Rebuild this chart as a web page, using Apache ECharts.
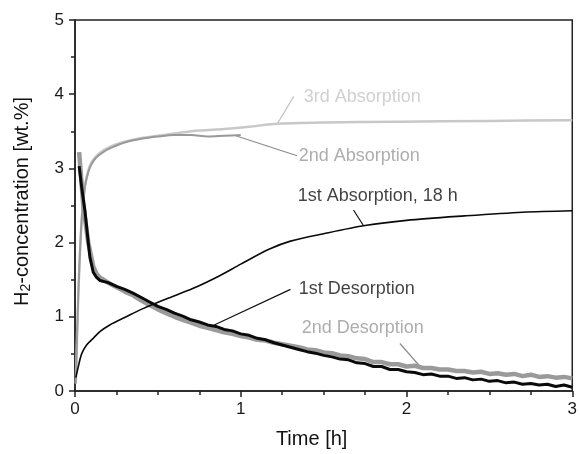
<!DOCTYPE html>
<html>
<head>
<meta charset="utf-8">
<script src="https://cdn.jsdelivr.net/npm/echarts@6/dist/echarts.min.js"></script>
<style>
  html, body { margin: 0; padding: 0; background: #fff; overflow: hidden; }
  #chart { width: 100vw; height: 100vh; }
</style>
</head>
<body>
<div id="chart"></div>
<script>
  // [time h, wt.%]
  let abs1 = [
    [0.005, 0.18], [0.02, 0.33], [0.04, 0.5], [0.07, 0.62], [0.11, 0.71], [0.15, 0.8],
    [0.21, 0.89], [0.3, 0.99], [0.41, 1.11], [0.55, 1.24], [0.71, 1.38], [0.87, 1.55],
    [1.0, 1.71], [1.17, 1.91], [1.3, 2.02], [1.5, 2.12], [1.75, 2.23], [2.0, 2.3],
    [2.35, 2.36], [2.7, 2.41], [3.0, 2.43]
  ]
  let abs2 = [
    [0.005, 0.1], [0.02, 1.3], [0.04, 2.3], [0.06, 2.75], [0.08, 2.95], [0.1, 3.06],
    [0.13, 3.15], [0.17, 3.22], [0.22, 3.28], [0.3, 3.35], [0.4, 3.4], [0.5, 3.43],
    [0.6, 3.45], [0.7, 3.45], [0.8, 3.43], [0.9, 3.44], [1.0, 3.45]
  ]
  let abs3 = [
    [0.005, 0.1], [0.02, 1.3], [0.04, 2.3], [0.06, 2.77], [0.08, 2.97], [0.1, 3.08],
    [0.13, 3.17], [0.17, 3.24], [0.22, 3.3], [0.3, 3.36], [0.4, 3.41], [0.5, 3.44],
    [0.6, 3.47], [0.75, 3.51], [0.9, 3.53], [1.05, 3.56], [1.2, 3.6], [1.5, 3.62],
    [1.95, 3.63], [2.5, 3.64], [3.0, 3.65]
  ]
  let des1 = [
    [0.025, 3.03], [0.04, 2.75], [0.06, 2.43], [0.08, 2.0], [0.09, 1.8], [0.11, 1.6], [0.13, 1.53],
    [0.15, 1.49], [0.2, 1.46], [0.25, 1.41], [0.3, 1.37], [0.35, 1.32], [0.4, 1.26], [0.45, 1.2],
    [0.5, 1.14], [0.55, 1.1], [0.6, 1.05], [0.65, 1.01], [0.7, 0.96], [0.75, 0.93], [0.8, 0.89],
    [0.85, 0.87], [0.9, 0.83], [0.95, 0.81], [1.0, 0.77], [1.05, 0.75], [1.1, 0.71], [1.15, 0.69],
    [1.2, 0.65], [1.25, 0.62], [1.3, 0.59], [1.35, 0.56], [1.4, 0.53], [1.45, 0.51], [1.5, 0.48],
    [1.55, 0.46], [1.6, 0.43], [1.65, 0.42], [1.7, 0.38], [1.75, 0.37], [1.8, 0.33], [1.85, 0.33],
    [1.9, 0.29], [1.95, 0.29], [2.0, 0.26], [2.05, 0.25], [2.1, 0.22], [2.15, 0.23], [2.2, 0.2],
    [2.25, 0.2], [2.3, 0.17], [2.35, 0.18], [2.4, 0.15], [2.45, 0.16], [2.5, 0.13], [2.55, 0.14],
    [2.6, 0.11], [2.65, 0.12], [2.7, 0.09], [2.75, 0.1], [2.8, 0.08], [2.85, 0.09], [2.9, 0.06],
    [2.95, 0.08], [3.0, 0.05]
  ]
  let des2 = [
    [0.025, 3.22], [0.05, 2.5], [0.08, 2.0], [0.11, 1.68], [0.13, 1.58], [0.15, 1.53], [0.2, 1.46],
    [0.25, 1.4], [0.3, 1.34], [0.35, 1.29], [0.4, 1.22], [0.45, 1.16], [0.5, 1.1], [0.55, 1.05],
    [0.6, 1.0], [0.65, 0.96], [0.7, 0.92], [0.75, 0.88], [0.8, 0.85], [0.85, 0.82], [0.9, 0.79],
    [0.95, 0.77], [1.0, 0.74], [1.05, 0.72], [1.1, 0.69], [1.15, 0.68], [1.2, 0.65], [1.25, 0.63],
    [1.3, 0.61], [1.35, 0.59], [1.4, 0.56], [1.45, 0.55], [1.5, 0.52], [1.55, 0.51], [1.6, 0.48],
    [1.65, 0.47], [1.7, 0.44], [1.75, 0.43], [1.8, 0.39], [1.85, 0.39], [1.9, 0.36], [1.95, 0.36],
    [2.0, 0.33], [2.05, 0.34], [2.1, 0.31], [2.15, 0.31], [2.2, 0.29], [2.25, 0.29], [2.3, 0.27],
    [2.35, 0.27], [2.4, 0.25], [2.45, 0.26], [2.5, 0.23], [2.55, 0.24], [2.6, 0.22], [2.65, 0.23],
    [2.7, 0.2], [2.75, 0.22], [2.8, 0.19], [2.85, 0.2], [2.9, 0.18], [2.95, 0.19], [3.0, 0.17]
  ]
  // annotation text: [x, y, text, color]
  let notes = [
    [1.38, 3.96, '3rd Absorption', '#c4c4c4'],
    [1.35, 3.16, '2nd Absorption', '#999999'],
    [1.344, 2.63, '1st Absorption, 18 h', '#111111'],
    [1.35, 1.37, '1st Desorption', '#111111'],
    [1.368, 0.85, '2nd Desorption', '#999999']
  ]
  // leader lines: [x1, y1, x2, y2, color]
  let leaders = [
    [1.32, 3.97, 1.22, 3.6, '#c4c4c4'],
    [1.34, 3.17, 0.97, 3.44, '#8c8c8c'],
    [1.68, 2.44, 1.74, 2.23, '#111111'],
    [1.3, 1.37, 0.84, 0.89, '#111111'],
    [1.96, 0.64, 2.09, 0.31, '#8c8c8c']
  ]

  let chart = echarts.init(document.getElementById('chart'))
  let font = 'Liberation Sans, Arial, sans-serif'
  let option = {
    animation: false,
    grid: {
      left: 75, right: 4, top: 20, bottom: 59,
      show: true, borderColor: '#222', borderWidth: 1.5
    },
    xAxis: {
      type: 'value', min: 0, max: 3, interval: 1,
      name: 'Time [h]', nameLocation: 'middle', nameGap: 38,
      nameTextStyle: { fontSize: 20, color: '#111', fontFamily: font, padding: [0, 24, 0, 0] },
      axisLine: { lineStyle: { color: '#222', width: 1.5 } },
      axisTick: { length: 6, lineStyle: { color: '#222', width: 1.5 } },
      minorTick: { show: true, splitNumber: 4, length: 4, lineStyle: { color: '#222', width: 1.5 } },
      axisLabel: { fontSize: 17, color: '#1a1a1a', fontFamily: font, margin: 10 },
      splitLine: { show: false }
    },
    yAxis: {
      type: 'value', min: 0, max: 5, interval: 1,
      name: 'H{sub|2}-concentration [wt.%]', nameLocation: 'middle', nameGap: 42,
      nameTextStyle: {
        fontSize: 20, color: '#111', fontFamily: font, padding: [0, 0, 0, 8],
        rich: { sub: { fontSize: 14, color: '#111', fontFamily: font, padding: [8, 0, 0, 0] } }
      },
      axisLine: { lineStyle: { color: '#222', width: 1.5 } },
      axisTick: { length: 6, lineStyle: { color: '#222', width: 1.5 } },
      minorTick: { show: true, splitNumber: 2, length: 4, lineStyle: { color: '#222', width: 1.5 } },
      axisLabel: { fontSize: 17, color: '#1a1a1a', fontFamily: font, margin: 11 },
      splitLine: { show: false }
    },
    series: [
      {
        name: '3rd Absorption', type: 'line', data: abs3, symbol: 'none', smooth: 0.3,
        lineStyle: { color: '#c8c8c8', width: 2.5 }
      },
      {
        name: '2nd Absorption', type: 'line', data: abs2, symbol: 'none', smooth: 0.3,
        lineStyle: { color: '#999999', width: 2 }
      },
      {
        name: '2nd Desorption', type: 'line', data: des2, symbol: 'none',
        lineStyle: { color: '#9a9a9a', width: 4.5 }
      },
      {
        name: '1st Desorption', type: 'line', data: des1, symbol: 'none',
        lineStyle: { color: '#0a0a0a', width: 3 }
      },
      {
        name: '1st Absorption, 18 h', type: 'line', data: abs1, symbol: 'none', smooth: 0.3,
        lineStyle: { color: '#0a0a0a', width: 1.6 }
      },
      {
        type: 'lines', coordinateSystem: 'cartesian2d', silent: true,
        data: leaders.map(l => ({
          coords: [[l[0], l[1]], [l[2], l[3]]],
          lineStyle: { color: l[4], width: 1.2, opacity: 1 }
        }))
      },
      {
        type: 'scatter', symbolSize: 0, silent: true,
        data: notes.map(n => ({
          value: [n[0], n[1]],
          label: {
            show: true, position: 'right', distance: 0,
            formatter: n[2], color: n[3], fontSize: 18, fontFamily: font
          }
        }))
      }
    ]
  };
  chart.setOption(option)
  window.addEventListener('resize', () => chart.resize())
</script>
</body>
</html>
